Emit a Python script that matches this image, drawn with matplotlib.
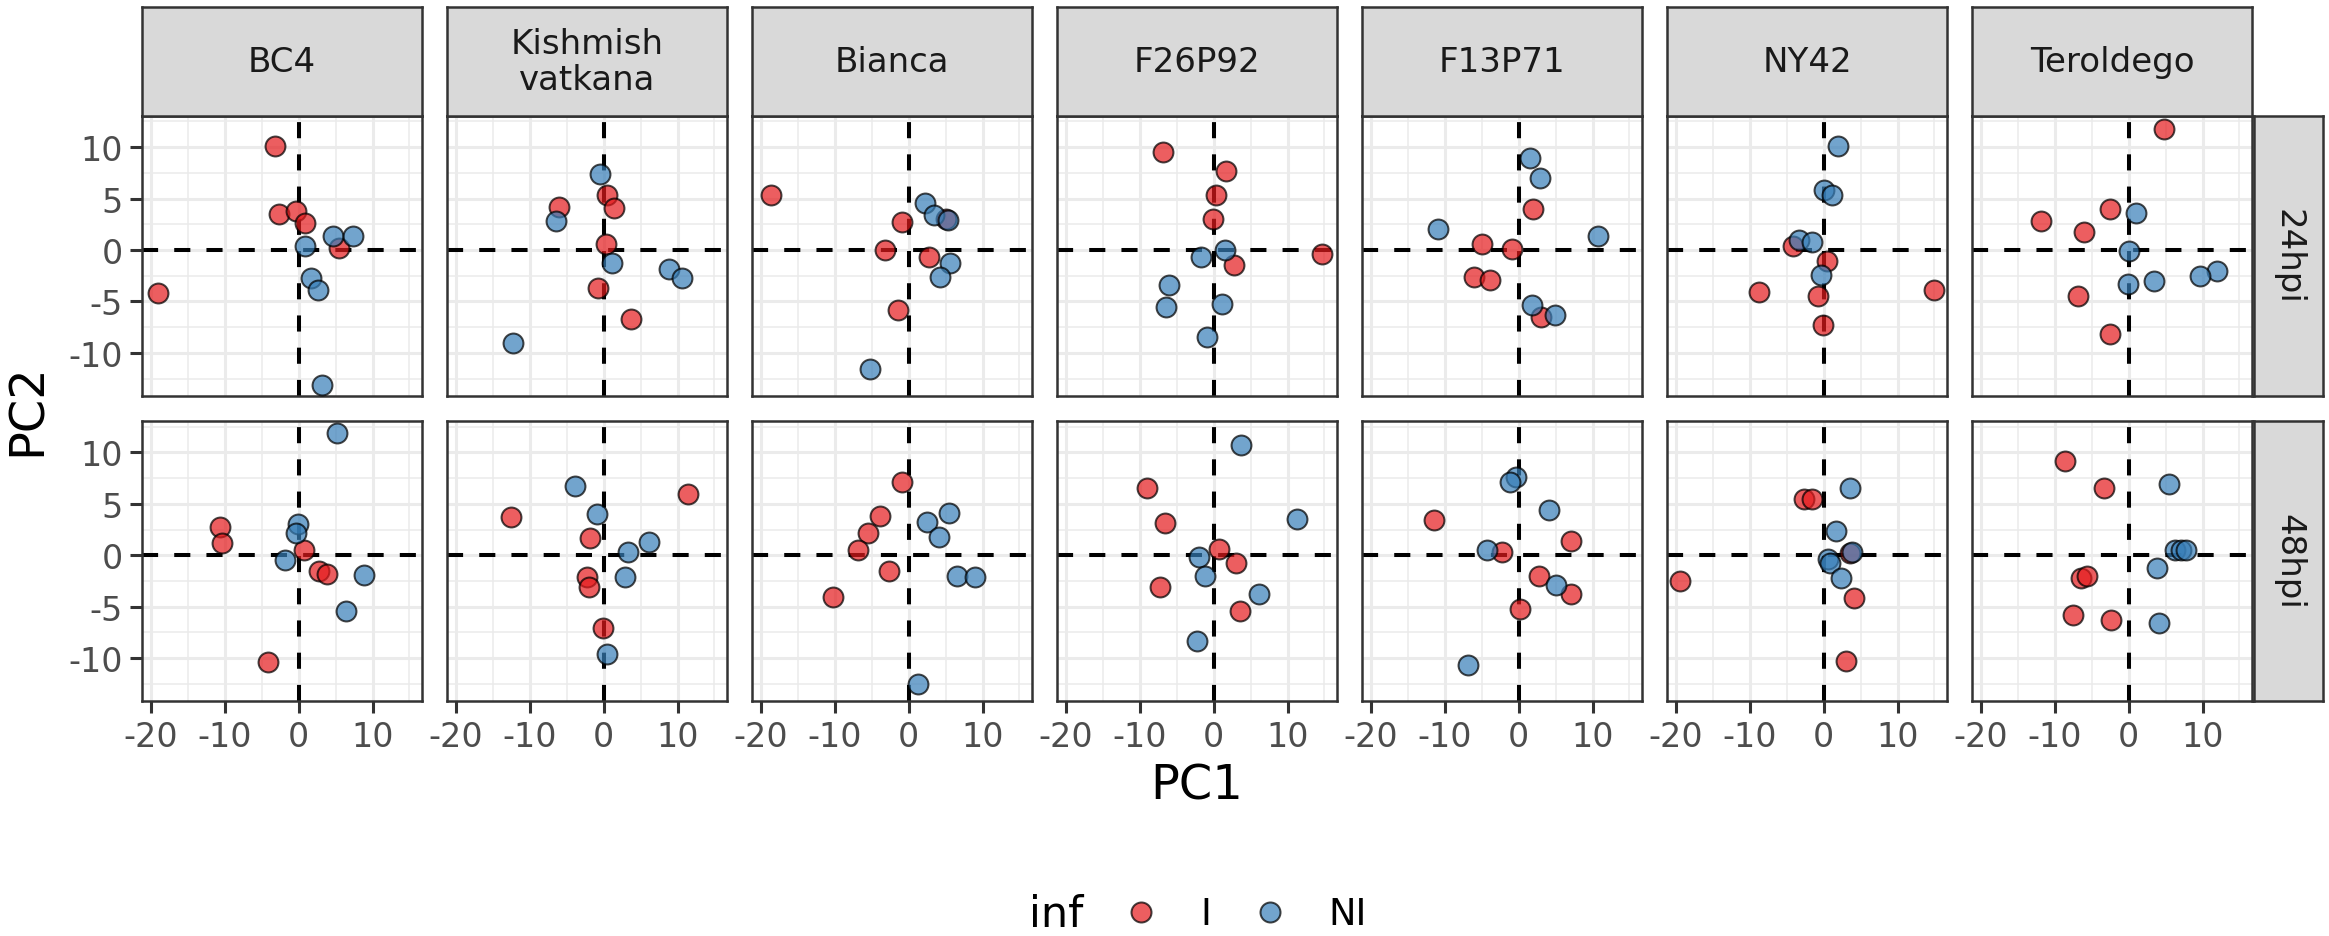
import matplotlib
matplotlib.use("Agg")
import matplotlib.pyplot as plt
from matplotlib.lines import Line2D
from matplotlib.colors import to_rgba

plt.rcParams['font.family'] = ['DejaVu Sans']
plt.rcParams['axes.unicode_minus'] = False

# facet labels
genotypes = ["BC4", "Kishmish\nvatkana", "Bianca", "F26P92", "F13P71", "NY42", "Teroldego"]
timepoints = ["24hpi", "48hpi"]
inf_levels = ["I", "NI"]

# PC scores, one list per genotype (6 samples each)
pc1_I_24 = [[-3.2, -2.7, -0.3, 0.8, 5.4, -19.0],
            [0.5, 1.4, -6.1, 0.3, -0.8, 3.7],
            [-18.6, 5.05, -0.9, -3.2, 2.8, -1.5],
            [-6.8, 1.7, 0.3, -0.05, 2.8, 14.7],
            [1.9, -4.9, -0.9, -6.0, -3.9, 3.0],
            [-4.2, 0.5, -8.7, -0.7, 15.0, -0.05],
            [4.8, -2.5, -11.9, -6.1, -6.9, -2.5]]
pc2_I_24 = [[10.1, 3.5, 3.8, 2.6, 0.2, -4.2],
            [5.3, 4.1, 4.2, 0.6, -3.7, -6.7],
            [5.3, 3.05, 2.7, 0.0, -0.65, -5.8],
            [9.5, 7.7, 5.3, 3.0, -1.45, -0.35],
            [4.0, 0.55, 0.05, -2.6, -2.9, -6.5],
            [0.4, -1.1, -4.1, -4.5, -3.9, -7.3],
            [11.8, 4.0, 2.8, 1.7, -4.45, -8.2]]
pc1_NI_24 = [[4.7, 7.3, 0.8, 1.7, 2.6, 3.1],
             [-0.5, -6.4, 1.2, 8.9, 10.6, -12.2],
             [2.2, 3.4, 5.3, 5.6, 4.3, -5.2],
             [1.5, -1.7, -6.1, -6.4, 1.1, -0.9],
             [1.5, 2.9, -10.9, 10.8, 1.8, 4.9],
             [1.95, 0.05, 1.1, -3.4, -1.6, -0.3],
             [0.95, 0.05, 11.9, 9.6, 3.5, -0.15]]
pc2_NI_24 = [[1.4, 1.4, 0.35, -2.7, -3.9, -13.1],
             [7.4, 2.8, -1.3, -1.9, -2.7, -9.0],
             [4.6, 3.4, 2.9, -1.3, -2.6, -11.6],
             [0.0, -0.7, -3.4, -5.5, -5.3, -8.5],
             [8.9, 7.0, 2.0, 1.4, -5.4, -6.3],
             [10.1, 5.8, 5.3, 1.0, 0.8, -2.4],
             [3.6, -0.1, -2.0, -2.5, -3.0, -3.35]]

pc1_I_48 = [[-10.7, -10.4, 0.7, 2.7, 3.9, -4.1],
            [11.4, -12.5, -1.8, -2.3, -2.0, -0.1],
            [-0.85, -3.9, -5.5, -6.8, -2.6, -10.3],
            [-9.0, -6.6, 0.75, 3.0, -7.2, 3.6],
            [-11.4, 7.1, -2.2, 2.8, 7.05, 0.25],
            [-2.7, -1.6, 3.6, -19.4, 4.1, 3.0],
            [-8.6, -3.4, -6.5, -5.6, -7.5, -2.4]]
pc2_I_48 = [[2.7, 1.2, 0.5, -1.5, -1.8, -10.4],
            [6.0, 3.7, 1.7, -2.1, -3.1, -7.1],
            [7.1, 3.8, 2.2, 0.55, -1.5, -4.1],
            [6.5, 3.1, 0.6, -0.8, -3.1, -5.4],
            [3.4, 1.4, 0.3, -2.0, -3.75, -5.2],
            [5.45, 5.5, 0.2, -2.5, -4.2, -10.3],
            [9.2, 6.5, -2.2, -2.05, -5.8, -6.3]]
pc1_NI_48 = [[5.2, -0.1, -0.3, -1.8, 8.8, 6.4],
             [-3.9, -0.9, 3.3, 6.1, 2.9, 0.5],
             [5.5, 2.55, 4.15, 6.5, 9.0, 1.3],
             [3.7, 11.3, -2.0, -1.1, 6.1, -2.2],
             [-0.4, -1.2, 4.1, -4.3, 5.05, -6.8],
             [3.6, 1.7, 3.8, 0.6, 0.8, 2.4],
             [5.4, 6.25, 7.1, 7.7, 3.8, 4.1]]
pc2_NI_48 = [[11.9, 3.0, 2.2, -0.5, -1.9, -5.4],
             [6.7, 4.0, 0.3, 1.3, -2.1, -9.6],
             [4.1, 3.2, 1.8, -2.0, -2.1, -12.5],
             [10.7, 3.5, -0.2, -2.0, -3.75, -8.3],
             [7.6, 7.1, 4.35, 0.55, -2.9, -10.7],
             [6.5, 2.4, 0.3, -0.4, -0.75, -2.2],
             [6.95, 0.55, 0.55, 0.5, -1.2, -6.6]]

scores = {
    ("24hpi", "I"): (pc1_I_24, pc2_I_24),
    ("24hpi", "NI"): (pc1_NI_24, pc2_NI_24),
    ("48hpi", "I"): (pc1_I_48, pc2_I_48),
    ("48hpi", "NI"): (pc1_NI_48, pc2_NI_48),
}
colors = {"I": "#E41A1C", "NI": "#377EB8"}

# layout in pixels
W, H = 2329, 937
left0, pw, pitch = 142, 280, 305
row_top = [116.7, 422.0]
ph = 280.3
strip_top, strip_h = 8.3, 108.4
rstrip_x, rstrip_w = 2254, 69

def frac(x, y, w, h):
    return [x / W, 1 - (y + h) / H, w / W, h / H]

fig = plt.figure(figsize=(W / 100, H / 100), dpi=100)

for r, tp in enumerate(timepoints):
    for c, g in enumerate(genotypes):
        ax = fig.add_axes(frac(left0 + c * pitch, row_top[r], pw, ph))
        ax.set_xlim(-21.2, 16.7)
        ax.set_ylim(-14.2, 13.05)
        ax.set_xticks([-20, -10, 0, 10])
        ax.set_xticks([-15, -5, 5, 15], minor=True)
        ax.set_yticks([-10, -5, 0, 5, 10])
        ax.set_yticks([-12.5, -7.5, -2.5, 2.5, 7.5, 12.5], minor=True)
        ax.grid(which='major', color='#EBEBEB', lw=2.2)
        ax.grid(which='minor', color='#EBEBEB', lw=1.1)
        ax.set_axisbelow(True)
        for s in ax.spines.values():
            s.set_color('#333333')
            s.set_linewidth(1.8)
        ax.tick_params(which='minor', length=0)
        ax.tick_params(which='major', length=8.8, width=2.2, color='#333333',
                       labelsize=24, labelcolor='#4D4D4D', pad=5)
        if c > 0:
            ax.tick_params(axis='y', which='major', left=False, labelleft=False)
        if r == 0:
            ax.tick_params(axis='x', which='major', bottom=False, labelbottom=False)

        ax.axhline(0, color='black', lw=2.9, ls=(0, (4, 4)), zorder=2)
        ax.axvline(0, color='black', lw=2.9, ls=(0, (4, 4)), zorder=2)

        for lev in inf_levels:
            xs, ys = scores[(tp, lev)]
            ax.scatter(xs[c], ys[c], s=205, facecolor=to_rgba(colors[lev], 0.7),
                       edgecolor=(0, 0, 0, 0.72), linewidth=1.45, zorder=3)

        # top strips
        if r == 0:
            sax = fig.add_axes(frac(left0 + c * pitch, strip_top, pw, strip_h))
            sax.set_facecolor('#D9D9D9')
            sax.set_xticks([])
            sax.set_yticks([])
            for s in sax.spines.values():
                s.set_color('#333333')
                s.set_linewidth(1.8)
            sax.text(0.5, 0.5, g, transform=sax.transAxes, ha='center', va='center',
                     fontsize=24.5, color='#1A1A1A', linespacing=1.15)

    # right strips
    rax = fig.add_axes(frac(rstrip_x, row_top[r], rstrip_w, ph))
    rax.set_facecolor('#D9D9D9')
    rax.set_xticks([])
    rax.set_yticks([])
    for s in rax.spines.values():
        s.set_color('#333333')
        s.set_linewidth(1.8)
    rax.text(0.5, 0.5, tp, transform=rax.transAxes, ha='center', va='center',
             fontsize=24.5, color='#1A1A1A', rotation=-90)

# axis titles
fig.text(1197 / W, 1 - 786 / H, "PC1", ha='center', va='center', fontsize=34.5)
fig.text(27 / W, 1 - 410 / H, "PC2", ha='center', va='center', fontsize=34.5,
         rotation=90)

# legend
handles = [Line2D([], [], ls='none', marker='o', markersize=14.4,
                  markerfacecolor=to_rgba(colors[lev], 0.7),
                  markeredgecolor=(0, 0, 0, 0.72), markeredgewidth=1.45)
           for lev in inf_levels]
fig.text(1056 / W, 1 - 915 / H, "inf", ha='center', va='center', fontsize=31)
fig.legend(handles, inf_levels, loc='center', bbox_to_anchor=(1245 / W, 1 - 915 / H),
           ncol=2, frameon=False, fontsize=26.5, handlelength=1.0,
           handletextpad=1.1, columnspacing=1.1)

fig.savefig("out.png", dpi=100)
